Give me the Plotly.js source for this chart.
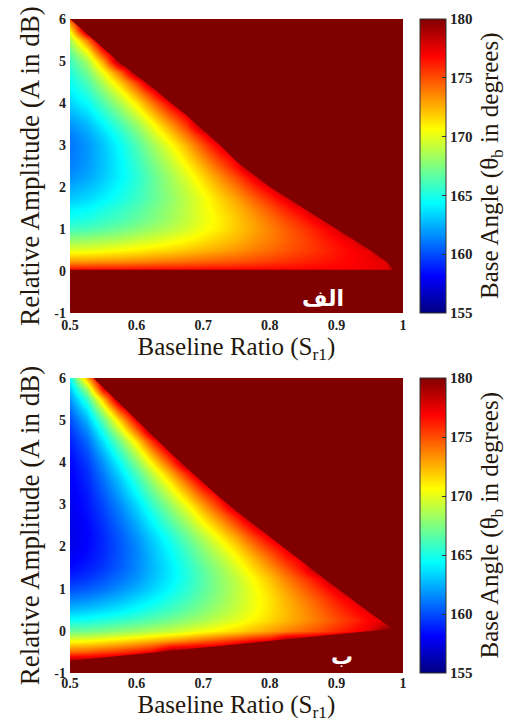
<!DOCTYPE html>
<html>
<head>
<meta charset="utf-8">
<script src="https://cdn.plot.ly/plotly-3.0.1.min.js"></script>
<style>html,body{margin:0;padding:0;background:#fff;}#chart{width:506px;height:722px;}</style>
</head>
<body>
<div id="chart"></div>
<script>
// ---------------- data ----------------
const xVals = [0.5,0.525,0.55,0.575,0.6,0.625,0.65,0.675,0.7,0.725,0.75,0.775,0.8,0.825,0.85,0.875,0.9,0.925,0.95,0.975,1.0];

const xTickVals = [0.5,0.6,0.7,0.8,0.9,1];
const xTickText = ['0.5','0.6','0.7','0.8','0.9','1'];
const yTickVals = [-1,0,1,2,3,4,5,6];
const yTickText = ['-1','0','1','2','3','4','5','6'];
const cbTickVals = [155,160,165,170,175,180];
const cbTickText = ['155','160','165','170','175','180'];

// panel (الف)
const yValsA = [-1,0,0.03,0.25,0.5,0.75,1,1.25,1.5,1.75,2,2.25,2.5,2.75,3,3.25,3.5,3.75,4,4.25,4.5,4.75,5,5.25,5.5,5.75,6];
const zA = [
 [180,180,180,180,180,180,180,180,180,180,180,180,180,180,180,180,180,180,180,180,180],
 [180,180,180,180,180,180,180,180,180,180,180,180,180,180,180,180,180,180,180,180,180],
 [177,177,177,177,177,177,177,177,177,177,177,177,177,177,177,177,177,177,177.2,177.5,180],
 [173,173.1,173.2,173.3,173.5,173.7,173.9,174.1,174.4,174.6,174.8,175.1,175.4,175.7,176,176.3,176.6,176.9,177.2,177.5,180],
 [170,170.1,170.3,170.6,170.9,171.3,171.6,172,172.4,172.8,173.3,173.8,174.3,174.8,175.3,175.8,176.4,176.9,177.5,180,180],
 [168,168.2,168.5,168.8,169.3,169.7,170.2,170.7,171.3,171.9,172.5,173.2,173.8,174.5,175.2,176,176.7,177.5,180,180,180],
 [166,166.2,166.6,167.1,167.7,168.3,168.9,169.6,170.4,171.1,172,172.8,173.7,174.6,175.5,176.5,177.5,180,180,180,180],
 [164.8,165.1,165.6,166.1,166.8,167.5,168.3,169.2,170.1,171,172,173,174.1,175.2,176.3,177.5,180,180,180,180,180],
 [164,164.3,164.9,165.6,166.3,167.2,168.1,169.1,170.2,171.3,172.4,173.6,174.9,176.2,177.5,180,180,180,180,180,180],
 [163,163.4,164.1,164.9,165.8,166.8,167.9,169.1,170.3,171.7,173,174.5,176,177.5,180,180,180,180,180,180,180],
 [162.3,162.8,163.5,164.5,165.6,166.8,168.1,169.4,170.9,172.5,174.1,175.8,177.5,180,180,180,180,180,180,180,180],
 [161.7,162.2,163.1,164.2,165.4,166.8,168.3,169.9,171.6,173.4,175.2,177.2,180,180,180,180,180,180,180,180,180],
 [161.3,161.9,162.9,164.2,165.6,167.2,168.9,170.7,172.6,174.7,176.8,180,180,180,180,180,180,180,180,180,180],
 [161.1,161.8,162.9,164.3,165.9,167.7,169.5,171.6,173.7,176,177.5,180,180,180,180,180,180,180,180,180,180],
 [161,161.8,163,164.5,166.3,168.3,170.4,172.6,175,177.5,180,180,180,180,180,180,180,180,180,180,180],
 [161.2,162.1,163.4,165.1,167.1,169.3,171.6,174.1,176.7,180,180,180,180,180,180,180,180,180,180,180,180],
 [161.8,162.7,164.2,166.1,168.2,170.6,173.2,175.9,180,180,180,180,180,180,180,180,180,180,180,180,180],
 [162.5,163.5,165.2,167.2,169.6,172.2,175,177.5,180,180,180,180,180,180,180,180,180,180,180,180,180],
 [163.3,164.4,166.3,168.6,171.2,174.1,177.2,180,180,180,180,180,180,180,180,180,180,180,180,180,180],
 [164,165.3,167.4,170,173.1,176.4,180,180,180,180,180,180,180,180,180,180,180,180,180,180,180],
 [164.6,166.2,168.8,172,175.6,180,180,180,180,180,180,180,180,180,180,180,180,180,180,180,180],
 [165.2,167.2,170.4,174.4,180,180,180,180,180,180,180,180,180,180,180,180,180,180,180,180,180],
 [165.8,168.5,173,180,180,180,180,180,180,180,180,180,180,180,180,180,180,180,180,180,180],
 [167,170.6,176.4,180,180,180,180,180,180,180,180,180,180,180,180,180,180,180,180,180,180],
 [168.5,173.9,180,180,180,180,180,180,180,180,180,180,180,180,180,180,180,180,180,180,180],
 [171,180,180,180,180,180,180,180,180,180,180,180,180,180,180,180,180,180,180,180,180],
 [175,180,180,180,180,180,180,180,180,180,180,180,180,180,180,180,180,180,180,180,180]
];
// boundary of the saturated (180°) region, panel (الف)
const edgeAx = [0.5,0.525,0.55,0.575,0.6,0.625,0.65,0.675,0.7,0.725,0.75,0.775,0.8,0.825,0.85,0.875,0.9,0.925,0.95,0.975,0.985];
const edgeAy = [6,5.65,5.3,4.95,4.65,4.35,4.02,3.7,3.35,3.0,2.6,2.3,2.0,1.75,1.5,1.25,1.0,0.75,0.5,0.22,0.05];
const lowAx = [0.985,0.5];
const lowAy = [0.03,0.03];

// panel (ب)
const yValsB = [-1,-0.75,-0.5,-0.25,0,0.25,0.5,0.75,1,1.25,1.5,1.75,2,2.25,2.5,2.75,3,3.25,3.5,3.75,4,4.25,4.5,4.75,5,5.25,5.5,5.75,6];
const zB = [
 [180,180,180,180,180,180,180,180,180,180,180,180,180,180,180,180,180,180,180,180,180],
 [180,180,180,180,180,180,180,180,180,180,180,180,180,180,180,180,180,180,180,180,180],
 [174.5,174.8,175.3,175.8,176.5,177.3,180,180,180,180,180,180,180,180,180,180,180,180,180,180,180],
 [170.5,170.7,171.1,171.6,172.1,172.7,173.3,174,174.7,175.4,176.2,177,177.5,180,180,180,180,180,180,180,180],
 [167,167.2,167.5,167.9,168.3,168.8,169.2,169.8,170.4,171,171.6,172.3,173,173.7,174.4,175.1,175.9,176.7,177.5,180,180],
 [164.6,164.8,165.2,165.6,166.1,166.6,167.2,167.9,168.5,169.3,170,170.8,171.6,172.4,173.2,174.1,175,175.9,176.9,177.5,180],
 [162.8,163.1,163.5,164,164.6,165.3,166,166.8,167.6,168.5,169.4,170.3,171.3,172.3,173.3,174.4,175.5,176.6,177.5,180,180],
 [161.3,161.6,162.1,162.7,163.5,164.2,165.1,166,167,168,169.1,170.2,171.3,172.5,173.7,175,176.3,177.5,180,180,180],
 [160,160.4,160.9,161.7,162.5,163.4,164.4,165.5,166.6,167.8,169,170.3,171.6,173,174.4,175.9,177.4,180,180,180,180],
 [159,159.4,160.1,160.9,161.8,162.9,164,165.2,166.5,167.9,169.2,170.7,172.2,173.8,175.4,177.1,180,180,180,180,180],
 [158.3,158.8,159.5,160.4,161.5,162.7,163.9,165.3,166.7,168.2,169.8,171.5,173.2,174.9,176.8,180,180,180,180,180,180],
 [157.9,158.4,159.2,160.3,161.4,162.8,164.2,165.7,167.3,168.9,170.7,172.5,174.4,176.4,177.5,180,180,180,180,180,180],
 [157.6,158.2,159.1,160.2,161.5,163,164.5,166.2,167.9,169.8,171.7,173.8,175.8,177.5,180,180,180,180,180,180,180],
 [157.5,158.1,159.1,160.4,161.8,163.4,165.1,167,168.9,171,173.1,175.4,177.5,180,180,180,180,180,180,180,180],
 [157.5,158.2,159.3,160.7,162.3,164.1,166,168,170.2,172.4,174.8,177.3,180,180,180,180,180,180,180,180,180],
 [157.6,158.4,159.6,161.1,162.9,164.8,167,169.2,171.6,174.1,176.7,180,180,180,180,180,180,180,180,180,180],
 [157.7,158.6,159.9,161.6,163.6,165.8,168.1,170.6,173.3,176.1,180,180,180,180,180,180,180,180,180,180,180],
 [157.8,158.7,160.3,162.2,164.4,166.8,169.4,172.2,175.1,177.5,180,180,180,180,180,180,180,180,180,180,180],
 [157.9,159,160.7,162.8,165.3,168,170.9,174.1,177.4,180,180,180,180,180,180,180,180,180,180,180,180],
 [158,159.2,161.2,163.6,166.3,169.3,172.6,176.2,180,180,180,180,180,180,180,180,180,180,180,180,180],
 [158.2,159.6,161.8,164.6,167.8,171.3,175.1,180,180,180,180,180,180,180,180,180,180,180,180,180,180],
 [158.5,160.1,162.6,165.8,169.4,173.4,177.5,180,180,180,180,180,180,180,180,180,180,180,180,180,180],
 [158.9,160.7,163.7,167.3,171.5,176.1,180,180,180,180,180,180,180,180,180,180,180,180,180,180,180],
 [159.4,161.5,165,169.4,174.3,180,180,180,180,180,180,180,180,180,180,180,180,180,180,180,180],
 [160,162.6,166.7,171.9,177.5,180,180,180,180,180,180,180,180,180,180,180,180,180,180,180,180],
 [160.8,163.9,169,175.3,180,180,180,180,180,180,180,180,180,180,180,180,180,180,180,180,180],
 [161.8,165.7,172.2,180,180,180,180,180,180,180,180,180,180,180,180,180,180,180,180,180,180],
 [163,168.3,177.1,180,180,180,180,180,180,180,180,180,180,180,180,180,180,180,180,180,180],
 [164.5,172.6,180,180,180,180,180,180,180,180,180,180,180,180,180,180,180,180,180,180,180]
];
// boundary of the saturated (180°) region, panel (ب)
const edgeBx = [0.535,0.55,0.575,0.6,0.625,0.65,0.675,0.7,0.725,0.75,0.775,0.8,0.825,0.85,0.875,0.9,0.925,0.95,0.975,0.985];
const edgeBy = [6,5.77,5.38,4.99,4.6,4.23,3.87,3.52,3.16,2.84,2.53,2.23,1.93,1.62,1.32,1.02,0.72,0.43,0.15,0.05];
const lowBx = [0.985,0.9,0.8,0.7,0.6,0.5];
const lowBy = [0.05,-0.08,-0.24,-0.39,-0.55,-0.71];

const xRange = [0.5,1];
const yRange = [-1,6];
const zRange = [155,180];

// ---------------- styling ----------------
const W = 506, H = 722;
const jet = [[0,'rgb(0,0,128)'],[0.125,'rgb(0,0,255)'],[0.375,'rgb(0,255,255)'],
             [0.625,'rgb(255,255,0)'],[0.875,'rgb(255,0,0)'],[1,'rgb(128,0,0)']];
const satColor = 'rgb(128,0,0)';
const serif = 'Liberation Serif, Times New Roman, serif';
const titleColor = '#24180c';
const tickFont = {family: serif, size: 14, color: '#222', weight: 'bold'};
const cbTickFont = {family: serif, size: 15, color: '#222', weight: 'bold'};

const xDom = [70/W, 403/W];
const yDomA = [1-313/H, 1-19/H];
const yDomB = [1-673/H, 1-378/H];

function colorbar(dom){
  return {
    x: 420/W, xanchor: 'left', xpad: 0, ypad: 0,
    y: (dom[0]+dom[1])/2, yanchor: 'middle', len: dom[1]-dom[0], lenmode: 'fraction',
    thickness: 26, thicknessmode: 'pixels',
    outlinewidth: 1, outlinecolor: '#333',
    tickmode: 'array', tickvals: cbTickVals, ticktext: cbTickText,
    ticks: 'inside', ticklen: 4, tickcolor: '#333', tickwidth: 1,
    tickfont: cbTickFont
  };
}

function satPolygon(ex, ey, lx, ly, xa, ya){
  return {
    type: 'scatter', mode: 'lines', xaxis: xa, yaxis: ya,
    x: ex.concat(lx, [xRange[0], xRange[1], xRange[1], ex[0]]),
    y: ey.concat(ly, [yRange[0], yRange[0], yRange[1], ey[0]]),
    fill: 'toself', fillcolor: satColor,
    line: {width: 0, color: satColor},
    hoverinfo: 'skip', showlegend: false
  };
}

const traces = [
  {type: 'heatmap', x: xVals, y: yValsA, z: zA, zmin: zRange[0], zmax: zRange[1],
   colorscale: jet, zsmooth: 'best', xaxis: 'x', yaxis: 'y', colorbar: colorbar(yDomA)},
  satPolygon(edgeAx, edgeAy, lowAx, lowAy, 'x', 'y'),
  {type: 'heatmap', x: xVals, y: yValsB, z: zB, zmin: zRange[0], zmax: zRange[1],
   colorscale: jet, zsmooth: 'best', xaxis: 'x2', yaxis: 'y2', colorbar: colorbar(yDomB)},
  satPolygon(edgeBx, edgeBy, lowBx, lowBy, 'x2', 'y2')
];

function xAxis(anchor, standoffTicks){
  return {
    domain: xDom, anchor: anchor, range: xRange, fixedrange: true,
    tickmode: 'array', tickvals: xTickVals, ticktext: xTickText,
    ticks: '', showgrid: false, zeroline: false, showline: false,
    tickfont: tickFont, ticklabelstandoff: standoffTicks,
    title: {text: 'Baseline Ratio (S<sub>r1</sub>)', font: {family: serif, size: 25, color: titleColor}, standoff: 3}
  };
}
function yAxis(anchor, dom){
  return {
    domain: dom, anchor: anchor, range: yRange, fixedrange: true,
    tickmode: 'array', tickvals: yTickVals, ticktext: yTickText,
    ticks: '', showgrid: false, zeroline: false, showline: false,
    tickfont: tickFont, ticklabelstandoff: 3,
    title: {text: 'Relative Amplitude (A in dB)', font: {family: serif, size: 27, color: titleColor}, standoff: 6}
  };
}

const cbTitle = 'Base Angle (θ<sub>b</sub> in degrees)';
const layout = {
  width: W, height: H, autosize: false,
  margin: {l: 0, r: 0, t: 0, b: 0, pad: 0},
  paper_bgcolor: '#fff', plot_bgcolor: '#fff',
  showlegend: false,
  xaxis: xAxis('y', 2), yaxis: yAxis('x', yDomA),
  xaxis2: xAxis('y2', 0), yaxis2: yAxis('x2', yDomB),
  annotations: [
    {text: 'الف', xref: 'paper', yref: 'paper', x: 323/W, y: 1-298/H, showarrow: false,
     xanchor: 'center', yanchor: 'middle', font: {family: 'DejaVu Sans, Noto Sans', size: 22, color: '#fff', weight: 'bold'}},
    {text: 'ب', xref: 'paper', yref: 'paper', x: 342/W, y: 1-656/H, showarrow: false,
     xanchor: 'center', yanchor: 'middle', font: {family: 'DejaVu Sans, Noto Sans', size: 22, color: '#fff', weight: 'bold'}},
    {text: cbTitle, xref: 'paper', yref: 'paper', x: 491/W, y: (yDomA[0]+yDomA[1])/2, textangle: -90,
     showarrow: false, xanchor: 'center', yanchor: 'middle', font: {family: serif, size: 25, color: titleColor}},
    {text: cbTitle, xref: 'paper', yref: 'paper', x: 491/W, y: (yDomB[0]+yDomB[1])/2, textangle: -90,
     showarrow: false, xanchor: 'center', yanchor: 'middle', font: {family: serif, size: 25, color: titleColor}}
  ]
};

Plotly.newPlot('chart', traces, layout, {staticPlot: true, displayModeBar: false});
</script>
</body>
</html>
